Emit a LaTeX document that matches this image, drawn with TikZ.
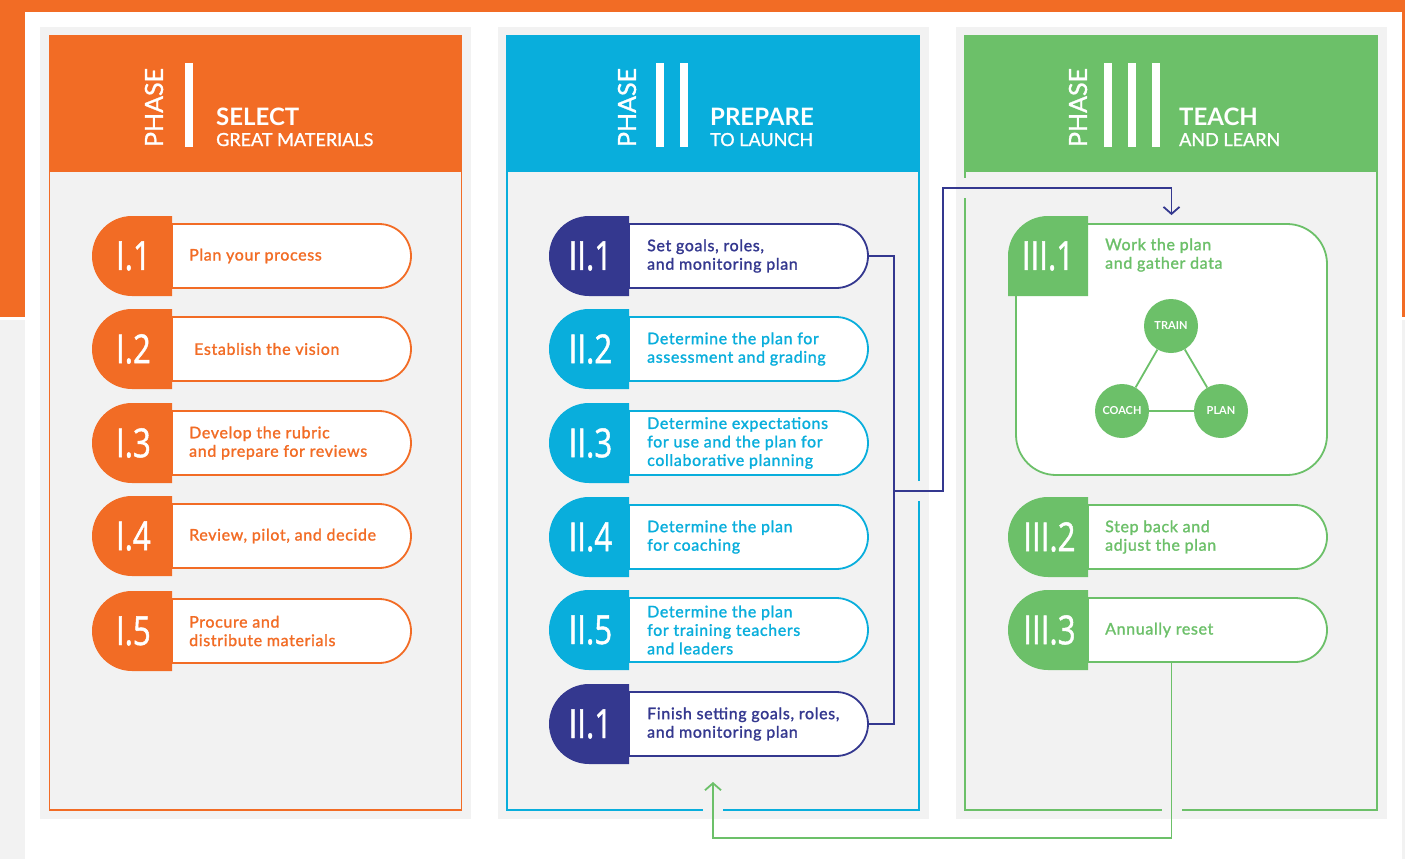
\documentclass[tikz,border=0pt]{standalone}
\usepackage{fontspec}
\setmainfont{Lato}
\newfontfamily\numfont[FakeStretch=0.78, FakeBold=1.2]{Open Sans}
\newfontfamily\stepfont[FakeBold=1.4, LetterSpace=4]{Lato}
\newfontfamily\headfont[FakeBold=1.2]{Lato}
\usetikzlibrary{shapes.misc,arrows.meta,calc}

\definecolor{phaseorange}{RGB}{242,108,37}
\definecolor{phaseblue}{RGB}{9,174,220}
\definecolor{phasenavy}{RGB}{52,56,143}
\definecolor{phasegreen}{RGB}{108,192,105}
\definecolor{panelgrey}{RGB}{242,242,242}

\tikzset{
  greyback/.style={fill=panelgrey, minimum width=431pt, minimum height=792pt, inner sep=0pt, outer sep=0pt},
  phasebox/.style={draw=#1, line width=1.8pt, minimum width=412pt, minimum height=774pt, inner sep=0pt, outer sep=0pt},
  phasehead/.style={fill=#1, minimum width=412pt, minimum height=136pt, inner sep=0pt, outer sep=0pt},
  phaselabel/.style={rotate=90, text=white, inner sep=0pt, font=\headfont\fontsize{25}{25}\selectfont},
  phasetitle/.style={anchor=base west, text=white, inner sep=0pt, font=\bfseries\fontsize{24}{24}\selectfont},
  phasesub/.style={anchor=base west, text=white, inner sep=0pt, font=\headfont\fontsize{18}{18}\selectfont},
  badge/.style={rounded rectangle, rounded rectangle right arc=none, minimum width=80pt, minimum height=80pt,
    inner sep=0pt, outer sep=0pt, fill=#1, text=white, font=\numfont\fontsize{40}{40}\selectfont},
  numtext/.style={inner sep=0pt, text=white, font=\numfont\fontsize{40}{40}\selectfont},
  pill/.style={rounded rectangle, rounded rectangle left arc=none, draw=#1, line width=1.8pt, fill=white,
    minimum width=239pt, minimum height=64pt, inner sep=0pt, outer sep=0pt},
  steptext/.style={anchor=west, inner sep=0pt, text=#1, align=left, font=\stepfont\fontsize{16}{18.5}\selectfont},
  cyclenode/.style={circle, fill=phasegreen, minimum size=54pt, inner sep=0pt, text=white, font=\bfseries\fontsize{11}{11}\selectfont},
  link/.style={draw=#1, line width=1.8pt}
}

\begin{document}
\begin{tikzpicture}[x=1pt, y=-1pt]
	\useasboundingbox (0,0) rectangle (1405,859);
	% page background
	\fill[white] (0,0) rectangle (1405,859);
	\fill[phaseorange] (0,0) rectangle (1405,317);
	\fill[panelgrey] (0,320) rectangle (1405,859);
	\fill[white] (25,12) rectangle (1402,859);

	% the three phase columns
	\foreach \i/\cx/\col in {1/255.5/phaseorange, 2/713/phaseblue, 3/1171/phasegreen}{
		\node[greyback] (g\i) at (\cx,423) {};
		\node[phasebox=\col] (p\i) at (\cx,423) {};
		\node[phasehead=\col, anchor=north] (h\i) at (p\i.north) {};
	}

	\foreach \i/\px/\bx/\nb/\tx/\ttl/\sub in {1/154/185/1/216/SELECT/GREAT MATERIALS, 2/627/656/2/710/PREPARE/TO LAUNCH, 3/1078/1104/3/1179/TEACH/AND LEARN}{
		\node[phaselabel] (ph\i) at (\px,107.5) {PHASE};
		\foreach \k in {1,...,\nb}{
			\fill[white] (\bx+24*\k-24,63) rectangle ++(8,84);
		}
		\node[phasetitle] (ti\i) at (\tx,125) {\ttl};
		\node[phasesub] (su\i) at (\tx,146) {\sub};
	}

	% phase I
	\foreach \n/\y/\dx/\lab/\txt in {1/256/17/I.1/{Plan your process}, 2/349/22/I.2/{Establish the vision}, 3/443/17/I.3/{Develop the rubric\\and prepare for reviews}, 4/536/17/I.4/{Review, pilot, and decide}, 5/631/17/I.5/{Procure and\\distribute materials}}{
		\node[pill=phaseorange, anchor=west] (t1\n) at (172,\y) {};
		\node[badge=phaseorange, anchor=east] (b1\n) at (t1\n.west) {\lab};
		\node[steptext=phaseorange] (x1\n) at ([xshift=\dx pt]t1\n.west) {\txt};
	}

	% phase II
	\foreach \n/\y/\col/\lab/\txt in {1/256/phasenavy/II.1/{Set goals, roles,\\and monitoring plan}, 2/349/phaseblue/II.2/{Determine the plan for\\assessment and grading}, 3/443/phaseblue/II.3/{Determine expectations\\for use and the plan for\\collaborative planning}, 4/537/phaseblue/II.4/{Determine the plan\\for coaching}, 5/630/phaseblue/II.5/{Determine the plan\\for training teachers\\and leaders}, 6/724/phasenavy/II.1/{Finish setting goals, roles,\\and monitoring plan}}{
		\node[pill=\col, anchor=west] (t2\n) at (629,\y) {};
		\node[badge=\col, anchor=east] (b2\n) at (t2\n.west) {\lab};
		\node[steptext=\col] (x2\n) at ([xshift=18pt]t2\n.west) {\txt};
	}

	% phase III
	\node[draw=phasegreen, line width=1.8pt, fill=white, rounded corners=40pt, minimum width=311pt, minimum height=251pt] (w31) at (1171.5,349.5) {};
	\fill[phasegreen] (1008,296) -- (1008,256) arc[start angle=180, end angle=270, radius=40] -- (1088,216) -- (1088,296) -- cycle;
	\node[numtext] (b31) at (1048,256) {III.1};
	\node[steptext=phasegreen] (x31) at (1105,255) {Work the plan\\and gather data};
	\node[cyclenode] (tr) at (1171,326) {TRAIN};
	\node[cyclenode] (co) at (1122,411) {COACH};
	\node[cyclenode] (pl) at (1221,411) {PLAN};
	\draw[link=phasegreen] (tr) -- (co) (co) -- (pl) (pl) -- (tr);

	\foreach \n/\y/\lab/\txt in {2/537/III.2/{Step back and\\adjust the plan}, 3/630/III.3/{Annually reset}}{
		\node[pill=phasegreen, anchor=west] (t3\n) at (1088,\y) {};
		\node[badge=phasegreen, anchor=east] (b3\n) at (t3\n.west) {\lab};
		\node[steptext=phasegreen] (x3\n) at ([xshift=17pt]t3\n.west) {\txt};
	}

	% connectors, with gaps cut into the borders they cross
	\coordinate (j) at (894,491);
	\coordinate (k) at (943,188);
	\coordinate (lp) at ([yshift=-28pt]p2.south);
	\fill[panelgrey] ($(p2.south)+(-10,-3)$) rectangle +(20,6);
	\fill[panelgrey] ($(p3.south -| w31.north)+(-10,-3)$) rectangle +(20,6);
	\fill[panelgrey] ($(p2.east |- j)+(-3,-10)$) rectangle +(6,20);
	\fill[panelgrey] ($(p3.west |- k)+(-3,-10)$) rectangle +(6,20);

	\draw[link=phasenavy] (t21.east) -| (j) |- (t26.east);
	\draw[link=phasenavy, -{Straight Barb[length=7pt,width=16pt]}] (j) -| (k) -| ([yshift=8pt]w31.north);
	\draw[link=phasegreen, -{Straight Barb[length=7pt,width=16pt]}] (t33.south -| w31.north) |- (lp) -- ([yshift=28pt]p2.south);
\end{tikzpicture}
\end{document}
